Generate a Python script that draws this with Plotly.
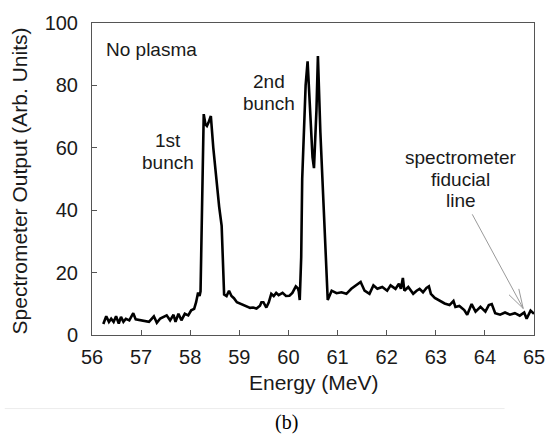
import plotly.graph_objects as go

energy = [56.23, 56.29, 56.345, 56.39, 56.44, 56.49, 56.545, 56.59, 56.64, 56.69,
          56.76, 56.84, 56.89, 56.96, 57.06, 57.16, 57.26, 57.32, 57.39, 57.46,
          57.52, 57.59, 57.66, 57.70, 57.76, 57.82, 57.89, 57.96, 58.02, 58.08,
          58.12, 58.16, 58.19, 58.21, 58.235, 58.26, 58.275, 58.31, 58.34, 58.37,
          58.42, 58.47, 58.52, 58.56, 58.59, 58.64, 58.69, 58.74, 58.79, 58.84,
          58.89, 58.95, 59.02, 59.09, 59.15, 59.22, 59.28, 59.35, 59.42, 59.45,
          59.49, 59.55, 59.60, 59.65, 59.70, 59.75, 59.80, 59.88, 59.95, 60.02,
          60.08, 60.15, 60.19, 60.21, 60.23, 60.26, 60.28, 60.32, 60.35, 60.39,
          60.42, 60.45, 60.49, 60.52, 60.545, 60.57, 60.60, 60.65, 60.72, 60.78,
          60.80, 60.88, 60.98, 61.08, 61.18, 61.28, 61.38, 61.47, 61.55, 61.65,
          61.73, 61.81, 61.91, 62.01, 62.08, 62.18, 62.25, 62.29, 62.33, 62.36,
          62.44, 62.54, 62.61, 62.67, 62.74, 62.81, 62.86, 62.90, 62.98, 63.08,
          63.18, 63.28, 63.36, 63.40, 63.48, 63.58, 63.64, 63.73, 63.81, 63.91,
          64.01, 64.08, 64.14, 64.21, 64.31, 64.41, 64.51, 64.61, 64.71, 64.80,
          64.85, 64.93, 65.0]
output = [3.5, 6.0, 4.2, 5.2, 4.2, 6.0, 3.7, 5.8, 4.2, 5.2,
          4.7, 7.0, 5.0, 4.8, 4.7, 4.2, 6.0, 3.9, 5.3, 5.8,
          6.3, 4.7, 6.5, 4.2, 6.8, 4.7, 6.8, 6.3, 7.9, 8.4,
          10.5, 13.6, 12.5, 14.0, 35, 65, 70.8, 67.5, 67, 68,
          70.2, 60, 51, 46, 41, 35, 13, 12.5, 14.2, 12.5,
          11.8, 10.5, 10.0, 9.4, 9.0, 8.7, 8.8, 8.5, 9.4, 10.5,
          10.5, 8.8, 10.5, 13.2, 12.5, 13.5, 12.8, 13.5, 12.5, 12.6,
          13.5, 15.6, 15.0, 14.0, 11.2, 25, 50, 70, 80, 87.7,
          78, 70, 57, 53.5, 62, 72, 89.4, 65, 40, 14,
          11.2, 14.2, 13.4, 13.7, 13.2, 14.8, 15.9, 17.0, 14.2, 13.2,
          15.9, 14.8, 15.4, 14.2, 15.9, 14.8, 16.4, 14.8, 18.3, 14.2,
          15.4, 13.2, 14.2, 14.8, 13.7, 15.1, 15.6, 13.2, 11.9, 10.9,
          10.1, 9.6, 10.9, 9.0, 9.3, 8.0, 6.5, 9.9, 7.5, 9.0,
          7.5, 9.6, 9.9, 7.0, 6.5, 7.2, 6.5, 7.0, 6.2, 7.2,
          5.2, 7.8, 6.8]

x_ticks = [56, 57, 58, 59, 60, 61, 62, 63, 64, 65]
y_ticks = [0, 20, 40, 60, 80, 100]

W, H = 557, 439
L, R, T, B = 92, 14, 17, 104
X0, X1, Y0, Y1 = 56, 65, 0, 100
pw, ph = W - L - R, H - T - B


def px2d(px, py):
    return (X0 + (px - L) / pw * (X1 - X0), Y0 + (T + ph - py) / ph * (Y1 - Y0))


FONT = "Liberation Sans, Arial, sans-serif"
TXT = "#1a1a1a"

fig = go.Figure()
fig.add_trace(go.Scatter(x=energy, y=output, mode="lines",
                         line=dict(color="black", width=2.6), hoverinfo="skip"))

annots = []


def label(text, px, py, anchor="center", size=19):
    x, y = px2d(px, py)
    annots.append(dict(x=x, y=y, xref="x", yref="y", text=text, showarrow=False,
                       xanchor=anchor, yanchor="middle",
                       font=dict(family=FONT, size=size, color=TXT)))


label("No plasma", 104, 44, anchor="left")
label("1st", 170, 137)
label("bunch", 170, 159)
label("2nd", 273, 77)
label("bunch", 273, 99)
label("spectrometer", 468, 154)
label("fiducial", 468, 176)
label("line", 468, 198)

# axis titles and caption
annots.append(dict(x=(18 - L) / pw, y=(T + ph - 178) / ph, xref="paper", yref="paper",
                   text="Spectrometer Output (Arb. Units)", textangle=-90, showarrow=False,
                   xanchor="center", yanchor="middle",
                   font=dict(family=FONT, size=21, color=TXT)))
annots.append(dict(x=(319 - L) / pw, y=(T + ph - 383) / ph, xref="paper", yref="paper",
                   text="Energy (MeV)", showarrow=False, xanchor="center", yanchor="middle",
                   font=dict(family=FONT, size=21, color=TXT)))
annots.append(dict(x=(290 - L) / pw, y=(T + ph - 424) / ph, xref="paper", yref="paper",
                   text="(b)", showarrow=False, xanchor="center", yanchor="middle",
                   font=dict(family="Liberation Serif, Times New Roman, serif", size=20, color="black")))

shapes = []
ac = "#9a9a9a"
for (a, b) in [((480, 212), (532, 308)), ((527.5, 288), (532, 308)), ((517.5, 294), (532, 308))]:
    xa, ya = px2d(*a)
    xb, yb = px2d(*b)
    shapes.append(dict(type="line", xref="x", yref="y", x0=xa, y0=ya, x1=xb, y1=yb,
                       line=dict(color=ac, width=1)))
# faint separator line under the chart
shapes.append(dict(type="line", xref="paper", yref="paper",
                   x0=(3 - L) / pw, x1=(513 - L) / pw,
                   y0=(T + ph - 410) / ph, y1=(T + ph - 410) / ph,
                   line=dict(color="#ececec", width=1)))

fig.update_layout(
    width=W, height=H,
    margin=dict(l=L, r=R, t=T, b=B),
    paper_bgcolor="white", plot_bgcolor="white",
    showlegend=False,
    annotations=annots, shapes=shapes,
    xaxis=dict(range=[X0, X1], tickvals=x_ticks, ticktext=[str(v) for v in x_ticks],
               ticks="inside", ticklen=5, tickcolor="#555", showline=True, linecolor="#555",
               linewidth=1, mirror=True, showgrid=False, zeroline=False,
               tickfont=dict(family=FONT, size=20, color=TXT), ticklabelstandoff=4),
    yaxis=dict(range=[Y0, Y1], tickvals=y_ticks, ticktext=[str(v) for v in y_ticks],
               ticks="inside", ticklen=5, tickcolor="#555", showline=True, linecolor="#555",
               linewidth=1, mirror=True, showgrid=False, zeroline=False,
               tickfont=dict(family=FONT, size=20, color=TXT), ticklabelstandoff=9),
)

fig.write_html("out.html", config={"displayModeBar": False},
               post_script="document.body.style.margin='0';document.body.style.overflow='hidden';")
